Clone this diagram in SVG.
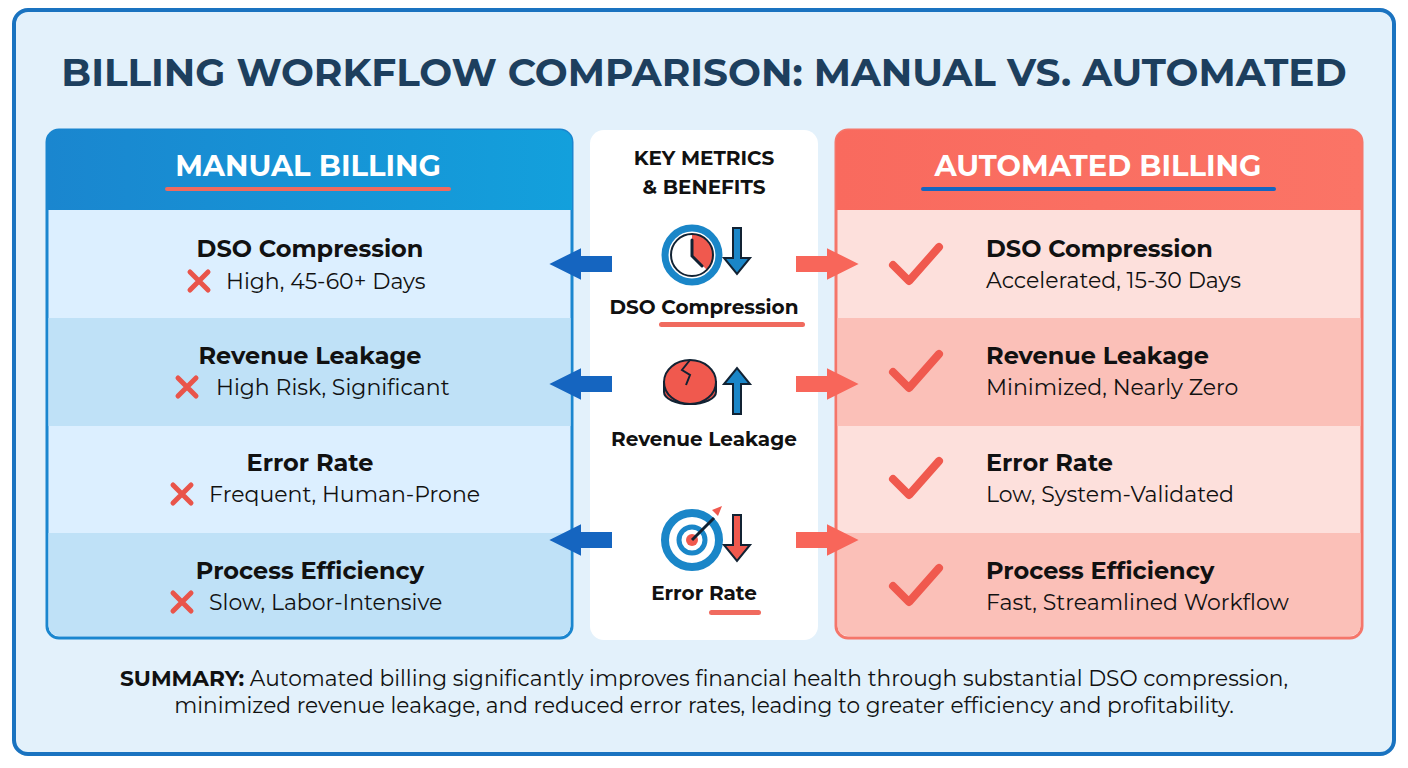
<svg xmlns="http://www.w3.org/2000/svg" width="1408" height="768" viewBox="0 0 1408 768">
<defs>
<linearGradient id="lh" x1="0" y1="0" x2="1" y2="0"><stop offset="0" stop-color="#1a86cf"/><stop offset="1" stop-color="#13a0dc"/></linearGradient>
<linearGradient id="rh" x1="0" y1="0" x2="1" y2="0"><stop offset="0" stop-color="#f96a5e"/><stop offset="1" stop-color="#fb7466"/></linearGradient>
<marker id="ab" viewBox="0 0 10 10" refX="2" refY="5" markerWidth="2" markerHeight="2.4" orient="auto"><path d="M0,0L10,5L0,10z" fill="#1565c0"/></marker>
<marker id="ar" viewBox="0 0 10 10" refX="2" refY="5" markerWidth="2" markerHeight="2.4" orient="auto"><path d="M0,0L10,5L0,10z" fill="#f8665a"/></marker>
</defs>
<style>
text{font-family:"Montserrat","Open Sans","Noto Sans",sans-serif}
.t{font-size:24px;font-weight:700;fill:#111}
.s{font-size:22px;fill:#111}
.x{stroke:#e9544a;stroke-width:5;stroke-linecap:round}
.ck{fill:none;stroke:#f0594e;stroke-width:8;stroke-linecap:round;stroke-linejoin:round}
.cl{font-size:20px;font-weight:700;fill:#111;text-anchor:middle}
</style>
<rect x="14" y="10" width="1380" height="744" rx="14" fill="#e3f1fb" stroke="#1a73c0" stroke-width="4"/>
<text x="704" y="86" text-anchor="middle" font-size="39" font-weight="700" fill="#1d3f5e">BILLING WORKFLOW COMPARISON: MANUAL VS. AUTOMATED</text>

<g id="manual">
<rect x="47" y="130" width="525" height="508" rx="12" fill="#dcefff" stroke="#1a86cf" stroke-width="3"/>
<path d="M59,130H560a12,12 0 0 1 12,12V210H47V142a12,12 0 0 1 12,-12z" fill="url(#lh)"/>
<rect x="48.5" y="318" width="522" height="108" fill="#bfe1f7"/>
<path d="M48.5,533H570.5V626a10,10 0 0 1 -10,10H58.5a10,10 0 0 1 -10,-10z" fill="#bfe1f7"/>
<text x="308" y="176" text-anchor="middle" font-size="29" font-weight="700" fill="#fff">MANUAL BILLING</text>
<rect x="165" y="187" width="286" height="4" rx="2" fill="#f06a5e"/>
<text x="310" y="257" class="t" text-anchor="middle">DSO Compression</text>
<path class="x" d="M190,272l18,18M208,272l-18,18"/><text x="226" y="289" class="s">High, 45-60+ Days</text>
<text x="310" y="364" class="t" text-anchor="middle">Revenue Leakage</text>
<path class="x" d="M178,378l18,18M196,378l-18,18"/><text x="216" y="395" class="s">High Risk, Significant</text>
<text x="310" y="471" class="t" text-anchor="middle">Error Rate</text>
<path class="x" d="M173,485l18,18M191,485l-18,18"/><text x="209" y="502" class="s">Frequent, Human-Prone</text>
<text x="310" y="579" class="t" text-anchor="middle">Process Efficiency</text>
<path class="x" d="M173,593l18,18M191,593l-18,18"/><text x="209" y="610" class="s">Slow, Labor-Intensive</text>
</g>

<g id="metrics">
<rect x="590" y="130" width="228" height="510" rx="14" fill="#fff"/>
<text x="704" y="165" class="cl">KEY METRICS</text>
<text x="704" y="194" class="cl">&amp; BENEFITS</text>
<circle cx="692" cy="255" r="27" fill="#fff" stroke="#1a86c8" stroke-width="7"/>
<path d="M692,234A21,21 0 0 1 707,270L692,255z" fill="#f0594e"/>
<circle cx="692" cy="255" r="21" fill="none" stroke="#123" stroke-width="2"/>
<path d="M692,240V256L702,266" stroke="#123" stroke-width="3" fill="none" stroke-linecap="round"/>
<path d="M733,228h8v30h9l-13,16l-13,-16h9z" fill="#1a86c8" stroke="#123" stroke-width="2"/>
<text x="704" y="314" class="cl">DSO Compression</text>
<rect x="659" y="322" width="146" height="5" rx="2.5" fill="#f06a5e"/>
<path d="M664,382v10a26,12 0 0 0 52,0v-10z" fill="#e9544a" stroke="#123" stroke-width="2"/>
<ellipse cx="690" cy="382" rx="26" ry="22" fill="#f0594e" stroke="#123" stroke-width="2"/>
<path d="M690,360l-8,10l8,5l-4,10" stroke="#123" stroke-width="2" fill="none"/>
<path d="M733,414h8v-30h9l-13,-16l-13,16h9z" fill="#1a86c8" stroke="#123" stroke-width="2"/>
<text x="704" y="446" class="cl">Revenue Leakage</text>
<circle cx="692" cy="540" r="27" fill="#fff" stroke="#1a86c8" stroke-width="8"/>
<circle cx="692" cy="540" r="13" fill="#fff" stroke="#1a86c8" stroke-width="5"/>
<circle cx="692" cy="540" r="6" fill="#f0594e"/>
<path d="M692,540L714,518" stroke="#123" stroke-width="3"/>
<path d="M712,510l10,-4l-4,10z" fill="#f0594e"/>
<path d="M733,515h8v30h9l-13,16l-13,-16h9z" fill="#f0594e" stroke="#123" stroke-width="2"/>
<text x="704" y="600" class="cl">Error Rate</text>
<rect x="709" y="610" width="52" height="5" rx="2.5" fill="#f06a5e"/>
</g>

<g id="automated">
<rect x="836" y="130" width="526" height="508" rx="12" fill="#fde0dc" stroke="#f5766a" stroke-width="3"/>
<path d="M848,130H1350a12,12 0 0 1 12,12V210H836V142a12,12 0 0 1 12,-12z" fill="url(#rh)"/>
<rect x="837.5" y="318" width="523" height="108" fill="#fbc0b8"/>
<path d="M837.5,533H1360.5V626a10,10 0 0 1 -10,10H847.5a10,10 0 0 1 -10,-10z" fill="#fbc0b8"/>
<text x="1098" y="176" text-anchor="middle" font-size="29" font-weight="700" fill="#fff">AUTOMATED BILLING</text>
<rect x="921" y="187" width="355" height="4" rx="2" fill="#1565c0"/>
<path class="ck" d="M893,265l16,16l30,-34"/>
<text x="986" y="257" class="t">DSO Compression</text><text x="986" y="288" class="s">Accelerated, 15-30 Days</text>
<path class="ck" d="M893,372l16,16l30,-34"/>
<text x="986" y="364" class="t">Revenue Leakage</text><text x="986" y="395" class="s">Minimized, Nearly Zero</text>
<path class="ck" d="M893,479l16,16l30,-34"/>
<text x="986" y="471" class="t">Error Rate</text><text x="986" y="502" class="s">Low, System-Validated</text>
<path class="ck" d="M893,586l16,16l30,-34"/>
<text x="986" y="579" class="t">Process Efficiency</text><text x="986" y="610" class="s">Fast, Streamlined Workflow</text>
</g>

<g id="connectors">
<path d="M612,264H575" stroke="#1565c0" stroke-width="16" marker-end="url(#ab)"/>
<path d="M612,384H575" stroke="#1565c0" stroke-width="16" marker-end="url(#ab)"/>
<path d="M612,540H575" stroke="#1565c0" stroke-width="16" marker-end="url(#ab)"/>
<path d="M796,264H833" stroke="#f8665a" stroke-width="16" marker-end="url(#ar)"/>
<path d="M796,384H833" stroke="#f8665a" stroke-width="16" marker-end="url(#ar)"/>
<path d="M796,540H833" stroke="#f8665a" stroke-width="16" marker-end="url(#ar)"/>
</g>

<text x="704" y="686" text-anchor="middle" font-size="21.7" fill="#111"><tspan font-weight="700">SUMMARY:</tspan> Automated billing significantly improves financial health through substantial DSO compression,</text>
<text x="704" y="713" text-anchor="middle" font-size="21.7" fill="#111">minimized revenue leakage, and reduced error rates, leading to greater efficiency and profitability.</text>
</svg>
